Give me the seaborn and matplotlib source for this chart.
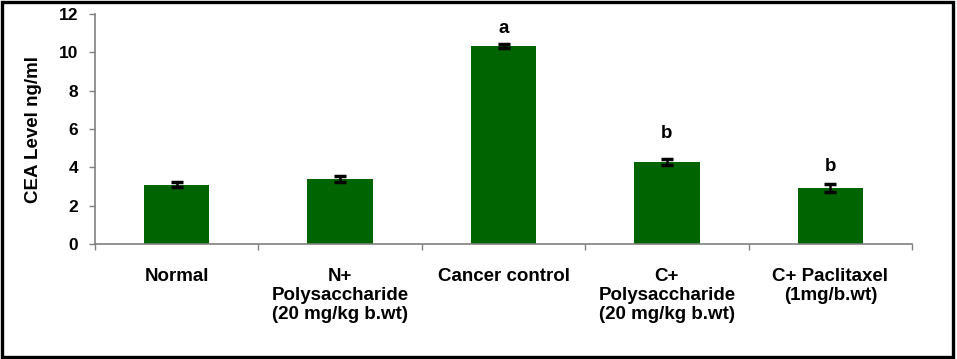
import matplotlib
matplotlib.use("Agg")
import matplotlib.pyplot as plt
import seaborn as sns
import pandas as pd
from matplotlib.patches import Rectangle
from matplotlib.ticker import FixedLocator

groups = ["Normal", "N+\nPolysaccharide\n(20 mg/kg b.wt)", "Cancer control",
          "C+\nPolysaccharide\n(20 mg/kg b.wt)", "C+ Paclitaxel\n(1mg/b.wt)"]
cea = [3.08, 3.39, 10.33, 4.28, 2.92]
cea_err = [0.13, 0.18, 0.12, 0.17, 0.22]
sig_letters = ["", "", "a", "b", "b"]
letter_offset_pt = [0, 0, 5, 12, 6]

sns.set_theme(style="white")
plt.rcParams['font.family'] = ['Liberation Sans', 'DejaVu Sans']
plt.rcParams['font.weight'] = 'bold'
for k in ['text.color', 'axes.labelcolor', 'xtick.labelcolor', 'ytick.labelcolor']:
    plt.rcParams[k] = 'black'

fig = plt.figure(figsize=(9.57, 3.59), dpi=100)
ax = fig.add_axes([0.0993, 0.3203, 0.8537, 0.6407])

df = pd.DataFrame({"group": groups, "cea": cea})
sns.barplot(data=df, x="group", y="cea", color="#006400", saturation=1,
            width=0.4, errorbar=None, ax=ax, edgecolor="none")
xs = list(range(len(groups)))
ax.errorbar(xs, cea, yerr=cea_err, fmt="none", ecolor="black",
            elinewidth=1.8, capsize=4.5, capthick=2.5)

for x, v, e, t, o in zip(xs, cea, cea_err, sig_letters, letter_offset_pt):
    if t:
        ax.annotate(t, (x, v + e), xytext=(0, o), textcoords="offset points",
                    ha="center", va="bottom", fontsize=13.5, fontweight="bold",
                    color="black")

ax.set_xlim(-0.5, len(groups) - 0.5)
ax.set_ylim(0, 12)
ax.set_yticks(range(0, 13, 2))
ax.set_yticklabels([str(v) for v in range(0, 13, 2)], fontsize=12.5,
                   fontweight="bold", color="black")
ax.set_xticks(xs)
ax.set_xticklabels(groups, fontsize=13.5, fontweight="bold", linespacing=1.15,
                   color="black")
ax.xaxis.set_minor_locator(FixedLocator([i - 0.5 for i in range(len(groups) + 1)]))
ax.tick_params(axis="x", which="major", length=0, pad=17)
ax.tick_params(axis="x", which="minor", length=4, width=1, color="#808080",
               direction="out", bottom=True)
ax.tick_params(axis="y", length=4, width=1, color="#808080", direction="out",
               left=True, pad=8)
ax.set_xlabel("")
ax.set_ylabel("CEA Level ng/ml", fontsize=13.5, fontweight="bold", labelpad=12,
              color="black")

for s in ["top", "right"]:
    ax.spines[s].set_visible(False)
for s in ["left", "bottom"]:
    ax.spines[s].set_color("#808080")
    ax.spines[s].set_linewidth(1.2)

fig.patches.append(Rectangle((0.002, 0.005), 0.994, 0.99, transform=fig.transFigure,
                             fill=False, edgecolor="black", linewidth=2.4))

fig.savefig("out.png", dpi=100)
